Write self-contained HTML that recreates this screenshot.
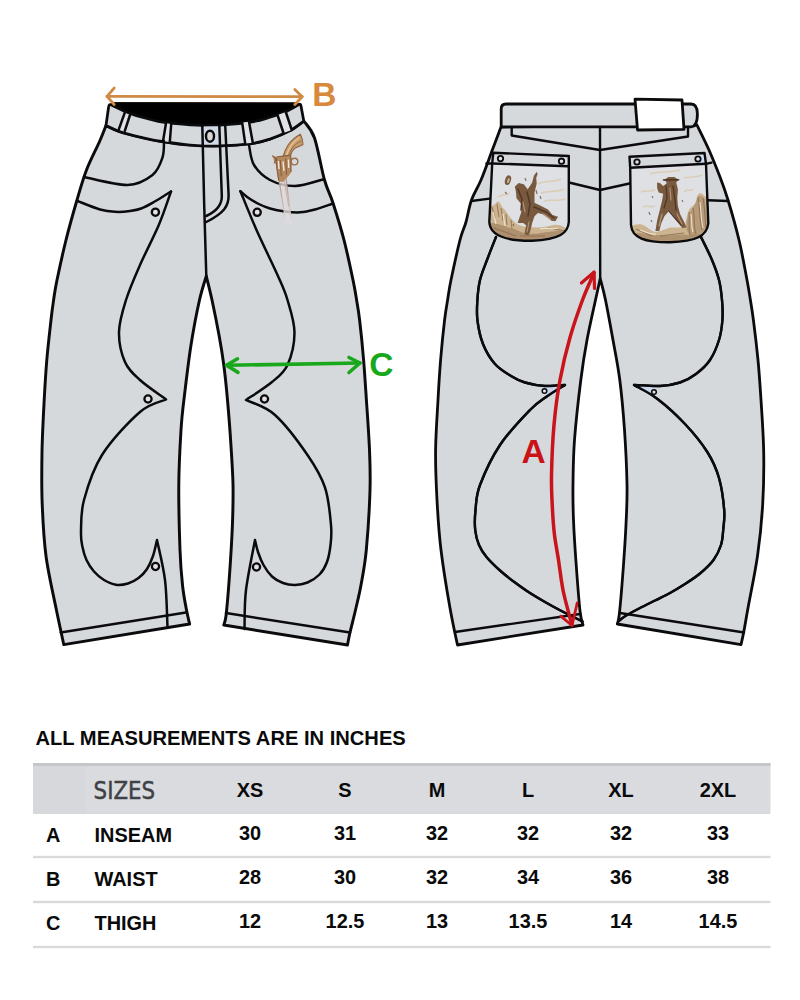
<!DOCTYPE html>
<html lang="en"><head><meta charset="utf-8"><title>Size chart</title>
<style>
html,body{margin:0;padding:0;background:#fff;}
body{width:800px;height:1000px;overflow:hidden;font-family:"Liberation Sans",sans-serif;}
svg{display:block;position:absolute;left:0;top:0;}
</style></head><body>
<svg width="800" height="1000" viewBox="0 0 800 1000">
<rect width="800" height="1000" fill="#ffffff"/>
<g id="jeans">
<defs>
<clipPath id="cpl"><path d="M493.3,152.8 L568.8,156 L568.8,222 C568,233 560,239.5 532,240.8 C508,241 490,237 489.3,222 L492.2,163.5 Z"/></clipPath>
<clipPath id="cpr"><path d="M629.5,156.8 L704.5,153 L706,164 L708.3,223.5 C707,236 696,241.5 670,242.3 C645,242.5 632,238 631,225 L630.2,167.7 Z"/></clipPath>
<linearGradient id="barrel" x1="0" y1="0" x2="0" y2="1"><stop offset="0" stop-color="#b59084"/><stop offset=".55" stop-color="#c9b6b2"/><stop offset="1" stop-color="#dddcdf"/></linearGradient>
</defs>
<g id="front">
<path d="M106.0,125.5 C105.0,128.0 103.2,133.1 100.0,140.5 C96.8,147.9 90.3,160.1 86.5,170.0 C82.7,179.9 80.4,188.3 77.0,200.0 C73.6,211.7 69.3,226.7 66.0,240.0 C62.7,253.3 59.1,270.0 57.0,280.0 C54.9,290.0 54.6,293.3 53.6,300.0 C52.6,306.7 52.1,310.0 51.0,320.0 C49.9,330.0 47.9,346.7 46.8,360.0 C45.7,373.3 45.0,384.7 44.2,400.0 C43.4,415.3 42.3,434.7 42.0,452.0 C41.7,469.3 41.5,486.7 42.2,504.0 C42.9,521.3 43.7,538.7 46.0,556.0 C48.3,573.3 53.0,593.2 56.0,608.0 C59.0,622.8 62.5,638.5 63.8,644.6 L189.6,624.0 C189.1,621.7 187.7,616.3 186.5,610.0 C185.3,603.7 183.7,596.0 182.6,586.0 C181.5,576.0 180.6,567.0 180.0,550.0 C179.4,533.0 178.6,504.0 178.8,484.0 C179.0,464.0 180.1,444.8 181.0,430.0 C181.9,415.2 182.8,409.2 184.5,395.0 C186.2,380.8 188.5,360.8 191.0,345.0 C193.5,329.2 196.9,311.5 199.5,300.0 C202.1,288.5 205.2,280.0 206.3,276.0 L206.3,276.0 C207.2,280.0 209.9,290.2 212.0,300.0 C214.1,309.8 217.0,324.2 219.0,335.0 C221.0,345.8 222.4,354.2 223.8,365.0 C225.2,375.8 226.4,387.5 227.5,400.0 C228.6,412.5 229.7,426.0 230.6,440.0 C231.5,454.0 232.7,470.7 233.0,484.0 C233.3,497.3 233.0,507.0 232.6,520.0 C232.2,533.0 231.4,546.6 230.4,562.0 C229.4,577.4 227.5,602.0 226.4,612.5 C225.3,623.0 224.2,622.9 223.8,625.0 L347.5,645.0 C347.9,642.9 348.7,638.3 350.0,632.5 C351.3,626.7 353.7,617.9 355.5,610.0 C357.3,602.1 359.2,595.0 361.0,585.0 C362.8,575.0 364.8,565.8 366.3,550.0 C367.8,534.2 369.5,506.7 370.0,490.0 C370.5,473.3 370.1,465.0 369.5,450.0 C368.9,435.0 367.4,415.0 366.4,400.0 C365.4,385.0 364.7,373.3 363.6,360.0 C362.5,346.7 360.8,330.0 359.6,320.0 C358.4,310.0 357.7,306.7 356.6,300.0 C355.5,293.3 355.1,290.0 353.0,280.0 C350.9,270.0 347.3,252.8 344.0,240.0 C340.7,227.2 336.2,213.0 333.0,203.0 C329.8,193.0 327.6,190.8 324.5,180.0 C321.4,169.2 317.9,147.8 314.5,138.0 C311.1,128.2 305.6,123.8 303.8,121.0 L303.8,121.0 C301.7,122.5 296.6,127.0 291.0,130.0 C285.4,133.0 276.5,136.8 270.0,139.0 C263.5,141.2 260.3,142.4 252.0,143.5 C243.7,144.6 230.3,145.6 220.0,145.8 C209.7,146.1 200.0,145.8 190.0,145.0 C180.0,144.2 168.3,142.5 160.0,141.2 C151.7,139.9 146.8,138.6 140.0,137.0 C133.2,135.4 125.2,133.4 119.5,131.5 C113.8,129.6 108.2,126.5 106.0,125.5 Z" fill="#d6d9dc" stroke="#0b0b0d" stroke-width="2.95" stroke-linejoin="round" stroke-linecap="round" />
<path d="M113,102.6 L297,102.8 L299,104.4 C296.7,105.7 289.8,109.9 285.0,112.0 C280.2,114.1 275.5,115.6 270.0,117.2 C264.5,118.8 260.3,120.5 252.0,121.8 C243.7,123.1 230.3,124.7 220.0,125.2 C209.7,125.7 199.2,125.2 190.0,124.8 C180.8,124.3 171.7,123.5 164.5,122.5 C157.3,121.5 152.8,120.0 147.0,118.5 C141.2,117.0 136.1,115.8 130.0,113.5 C123.9,111.2 113.8,106.1 110.5,104.6 Z" fill="#000" stroke="#0b0b0d" stroke-width="1" stroke-linejoin="round" stroke-linecap="round" />
<path d="M108.6,107 Q108.9,104.2 110.5,104.6 C113.8,106.1 123.9,111.2 130.0,113.5 C136.1,115.8 141.2,117.0 147.0,118.5 C152.8,120.0 157.3,121.5 164.5,122.5 C171.7,123.5 180.8,124.3 190.0,124.8 C199.2,125.2 209.7,125.7 220.0,125.2 C230.3,124.7 243.7,123.1 252.0,121.8 C260.3,120.5 264.5,118.8 270.0,117.2 C275.5,115.6 280.2,114.1 285.0,112.0 C289.8,109.9 296.7,105.7 299.0,104.4 Q300.6,103.6 301,106 L303.8,121 C301.7,122.5 296.6,127.0 291.0,130.0 C285.4,133.0 276.5,136.8 270.0,139.0 C263.5,141.2 260.3,142.4 252.0,143.5 C243.7,144.6 230.3,145.6 220.0,145.8 C209.7,146.1 200.0,145.8 190.0,145.0 C180.0,144.2 168.3,142.5 160.0,141.2 C151.7,139.9 146.8,138.6 140.0,137.0 C133.2,135.4 125.2,133.4 119.5,131.5 C113.8,129.6 108.2,126.5 106.0,125.5 Z" fill="#d6d9dc" stroke="#0b0b0d" stroke-width="2.75" stroke-linejoin="round" stroke-linecap="round" />
<path d="M203.3,126.5 L218.5,126.3 L219.3,144.6 L203.6,144.6 Z" fill="#d2dae8"/>
<path d="M124.8,112.7 L130,115 L124.8,130.8 L118.8,129.3 Z" fill="#e0e2e6"/>
<path d="M166,123.2 L171.2,124 L169.8,142 L163,141.2 Z" fill="#e0e2e6"/>
<path d="M242.2,122.6 L249,121.8 L252.8,142.8 L245.2,143.6 Z" fill="#e0e2e6"/>
<path d="M277.5,115 L285.8,112 L291.8,130 L283.5,133 Z" fill="#e0e2e6"/>
<path d="M164.0,141.0 C163.8,143.8 164.4,151.8 162.5,157.5 C160.6,163.2 158.3,170.4 152.5,175.0 C146.7,179.6 138.9,184.7 127.5,185.0 C116.1,185.3 91.2,178.3 84.0,177.0" fill="none" stroke="#0b0b0d" stroke-width="2.5" stroke-linejoin="round" stroke-linecap="round" />
<path d="M77.5,201.0 C81.2,202.4 93.8,207.7 100.0,209.5 C106.2,211.3 110.0,211.6 115.0,211.8 C120.0,212.1 125.6,211.6 130.0,211.0 C134.4,210.4 137.5,209.9 141.2,208.5 C145.0,207.1 148.8,204.9 152.5,202.8 C156.2,200.7 160.7,197.9 163.8,196.0 C166.8,194.1 169.8,192.2 171.0,191.5" fill="none" stroke="#0b0b0d" stroke-width="2.5" stroke-linejoin="round" stroke-linecap="round" />
<path d="M171.0,191.5 C169.0,197.1 164.0,212.8 158.8,225.0 C153.6,237.2 145.5,252.5 140.0,265.0 C134.5,277.5 129.5,288.8 126.0,300.0 C122.5,311.2 119.2,321.7 119.0,332.0 C118.8,342.3 121.5,354.0 125.0,362.0 C128.5,370.0 133.2,373.8 140.0,380.0 C146.8,386.2 161.7,396.2 166.0,399.5 L166.0,399.5 C161.7,401.6 150.7,402.8 140.0,412.0 C129.3,421.2 111.3,440.3 102.0,455.0 C92.7,469.7 87.5,487.1 84.0,500.0 C80.5,512.9 81.2,524.7 81.0,532.5 C80.8,540.3 81.6,542.4 82.5,547.0 C83.4,551.6 84.6,555.9 86.5,560.0 C88.4,564.1 91.1,568.2 94.0,571.5 C96.9,574.8 100.3,577.8 104.0,580.0 C107.7,582.2 112.0,584.2 116.0,584.8 C120.0,585.4 124.2,584.6 128.0,583.5 C131.8,582.4 135.3,580.4 138.5,578.0 C141.7,575.6 144.6,572.7 147.0,569.0 C149.4,565.3 151.3,560.8 153.0,556.0 C154.7,551.2 156.3,542.7 157.0,540.0 L157.0,540.0 C158.3,546.7 163.2,565.4 165.0,580.0 C166.8,594.6 167.1,619.6 167.5,627.5" fill="none" stroke="#0b0b0d" stroke-width="2.5" stroke-linejoin="round" stroke-linecap="round" />
<path d="M249.0,145.0 C249.8,148.3 250.5,159.2 254.0,165.0 C257.5,170.8 263.2,176.5 270.0,180.0 C276.8,183.5 286.2,186.1 295.0,186.0 C303.8,185.9 318.3,180.6 323.0,179.5" fill="none" stroke="#0b0b0d" stroke-width="2.5" stroke-linejoin="round" stroke-linecap="round" />
<path d="M331.5,204.0 C328.8,204.9 320.2,208.1 315.0,209.5 C309.8,210.9 305.0,212.0 300.0,212.3 C295.0,212.6 290.0,212.1 285.0,211.5 C280.0,210.9 274.4,209.8 270.0,208.5 C265.6,207.2 262.5,205.9 258.8,204.0 C255.0,202.1 250.6,199.4 247.5,197.2 C244.4,195.1 241.6,192.2 240.4,191.2" fill="none" stroke="#0b0b0d" stroke-width="2.5" stroke-linejoin="round" stroke-linecap="round" />
<path d="M240.4,191.2 C243.1,197.7 250.3,216.0 256.5,230.0 C262.7,244.0 272.3,263.3 277.5,275.0 C282.7,286.7 284.7,290.4 287.5,300.0 C290.3,309.6 294.5,321.7 294.5,332.5 C294.5,343.3 291.2,356.8 287.5,365.0 C283.8,373.2 278.9,376.2 272.0,382.0 C265.1,387.8 250.3,397.0 246.0,400.0 L246.0,400.0 C250.8,402.5 264.8,405.8 275.0,415.0 C285.2,424.2 299.2,442.9 307.5,455.0 C315.8,467.1 321.1,475.8 325.0,487.5 C328.9,499.2 330.1,515.4 331.0,525.0 C331.9,534.6 331.2,538.8 330.5,545.0 C329.8,551.2 328.8,557.1 327.0,562.0 C325.2,566.9 322.8,571.1 319.5,574.5 C316.2,577.9 311.6,580.8 307.5,582.5 C303.4,584.2 299.1,584.9 295.0,585.0 C290.9,585.1 286.8,584.4 283.0,583.0 C279.2,581.6 275.2,579.5 272.0,576.5 C268.8,573.5 265.8,569.1 263.5,565.0 C261.2,560.9 259.4,556.2 258.0,552.0 C256.6,547.8 255.5,542.0 255.0,540.0 L255.0,540.0 C253.5,548.3 247.8,575.2 246.0,590.0 C244.2,604.8 244.8,622.5 244.5,629.0" fill="none" stroke="#0b0b0d" stroke-width="2.5" stroke-linejoin="round" stroke-linecap="round" />
<path d="M60.7,632.4 L186,612.5" fill="none" stroke="#0b0b0d" stroke-width="2.5" stroke-linejoin="round" stroke-linecap="round" />
<path d="M226,613 L350,632.5" fill="none" stroke="#0b0b0d" stroke-width="2.5" stroke-linejoin="round" stroke-linecap="round" />
<path d="M202.3,125 L204.2,205 L206.3,276" fill="none" stroke="#0b0b0d" stroke-width="2.5" stroke-linejoin="round" stroke-linecap="round" />
<path d="M225.2,125 L228.6,194.8 C229,206 224,213 206.3,222" fill="none" stroke="#0b0b0d" stroke-width="2.5" stroke-linejoin="round" stroke-linecap="round" />
<path d="M219.3,125 L221.8,196 C222,204 218,210.5 206.3,216" fill="none" stroke="#0b0b0d" stroke-width="2.5" stroke-linejoin="round" stroke-linecap="round" />
<path d="M124.8,112.7 L118.8,129.3" fill="none" stroke="#0b0b0d" stroke-width="2.5" stroke-linejoin="round" stroke-linecap="round" />
<path d="M130,115 L124.8,130.8" fill="none" stroke="#0b0b0d" stroke-width="2.5" stroke-linejoin="round" stroke-linecap="round" />
<path d="M166,123.2 L163,141.2" fill="none" stroke="#0b0b0d" stroke-width="2.5" stroke-linejoin="round" stroke-linecap="round" />
<path d="M171.2,124 L169.8,142" fill="none" stroke="#0b0b0d" stroke-width="2.5" stroke-linejoin="round" stroke-linecap="round" />
<path d="M242.2,122.6 L245.2,143.6" fill="none" stroke="#0b0b0d" stroke-width="2.5" stroke-linejoin="round" stroke-linecap="round" />
<path d="M249,121.8 L252.8,142.8" fill="none" stroke="#0b0b0d" stroke-width="2.5" stroke-linejoin="round" stroke-linecap="round" />
<path d="M277.5,115 L283.5,133" fill="none" stroke="#0b0b0d" stroke-width="2.5" stroke-linejoin="round" stroke-linecap="round" />
<path d="M285.8,112 L291.8,130" fill="none" stroke="#0b0b0d" stroke-width="2.5" stroke-linejoin="round" stroke-linecap="round" />
<ellipse cx="210" cy="136.2" rx="4" ry="5.5" fill="#dad8d4" stroke="#0b0b0d" stroke-width="2.4"/>
<circle cx="155.4" cy="212.2" r="3.6" fill="#e6e1e3" stroke="#0b0b0d" stroke-width="2.3"/>
<circle cx="257.2" cy="212.3" r="3.6" fill="#e6e1e3" stroke="#0b0b0d" stroke-width="2.3"/>
<circle cx="148" cy="399" r="3.6" fill="#e6e1e3" stroke="#0b0b0d" stroke-width="2.3"/>
<circle cx="264.5" cy="399" r="3.6" fill="#e6e1e3" stroke="#0b0b0d" stroke-width="2.3"/>
<circle cx="155.5" cy="566.5" r="3.6" fill="#e6e1e3" stroke="#0b0b0d" stroke-width="2.3"/>
<circle cx="256.5" cy="567" r="3.6" fill="#e6e1e3" stroke="#0b0b0d" stroke-width="2.3"/>
<g id="gun">
<path d="M279.2,178 L285.6,176.5 L291.6,223.4 L286,222.4 Z" fill="#dedbdc" opacity=".8"/>
<path d="M278.6,178 L286,222.4" stroke="url(#barrel)" stroke-width="1.3" fill="none"/>
<path d="M285.6,175 L291.5,223.4" stroke="url(#barrel)" stroke-width="1.3" fill="none"/>
<path d="M282.4,170 L288.6,206" stroke="#bfa7a0" stroke-width="1" fill="none" opacity=".8"/>
<path d="M300.4,134.2 C295,137 291,141 288.4,144.5 C286,148 284.4,152 283,156.5 L290.8,155 C291.6,152 292.6,150.2 294.5,148.6 C297,146.8 300.5,146 303,144.6 C303,140.6 301.8,137 300.4,134.2 Z" fill="#c79c6b" stroke="#8f623f" stroke-width="1.1" stroke-linejoin="round"/>
<path d="M299.5,137.5 C295,140.5 291.5,144.5 289.3,148.5 C288,151 287.2,153 286.6,155.5" stroke="#e3c59c" stroke-width="1.5" fill="none"/>
<path d="M301.4,141 C297.6,142.6 294.6,145 292.4,148 C291,150 290,152 289.4,154.6" stroke="#9a6c46" stroke-width="1" fill="none"/>
<path d="M272.2,155.6 L276.4,157 L283,155.8 L290.8,155 L291.4,160 L291,172.6 L288.6,176 L286,178.4 L283,182 L279,181.6 L277.6,176 L276.4,166 L274.6,162 Z" fill="#b38960"/>
<path d="M272.2,155.6 L276,158.6 L274.2,163.4 M276.6,158 L276.8,168 L278.8,180.6 M276.4,157 L290.8,155.2 M290.8,156 L291,172" stroke="#8a5e3d" stroke-width="1.2" fill="none" stroke-linejoin="round"/>
<path d="M280.2,160 L281.4,176.4 M285.6,158.6 L286.6,174.6" stroke="#8a5e3d" stroke-width="1.1" fill="none"/>
<path d="M278.4,161 L279,169 M283,161.4 L284,171 M288.4,159.6 L288.8,168" stroke="#f0e6da" stroke-width="1.4" fill="none"/>
<circle cx="294.5" cy="161.6" r="3.3" fill="none" stroke="#9b6f4b" stroke-width="1.4"/>
</g>
</g>
<g id="back">
<path d="M501.0,127.0 C499.6,130.8 495.6,141.2 492.3,150.0 C489.0,158.8 484.5,171.7 481.0,180.0 C477.5,188.3 474.0,193.0 471.5,200.0 C469.0,207.0 467.9,215.3 466.0,222.0 C464.1,228.7 462.5,230.3 460.0,240.0 C457.5,249.7 453.1,270.0 451.0,280.0 C448.9,290.0 448.7,293.3 447.6,300.0 C446.5,306.7 445.8,310.0 444.6,320.0 C443.4,330.0 441.7,346.7 440.6,360.0 C439.5,373.3 438.8,385.0 438.0,400.0 C437.2,415.0 435.8,433.3 435.6,450.0 C435.4,466.7 436.1,483.3 437.0,500.0 C437.9,516.7 438.8,532.0 441.0,550.0 C443.2,568.0 447.2,592.2 450.0,608.0 C452.8,623.8 456.2,638.8 457.5,645.0 L583.0,625.0 C582.5,622.7 581.2,621.5 580.0,611.0 C578.8,600.5 577.1,577.2 576.0,562.0 C574.9,546.8 574.0,533.0 573.5,520.0 C573.0,507.0 572.8,497.3 573.0,484.0 C573.2,470.7 573.2,457.3 574.5,440.0 C575.8,422.7 578.7,396.7 580.8,380.0 C582.9,363.3 584.5,353.3 587.0,340.0 C589.5,326.7 593.3,310.2 595.5,300.0 C597.7,289.8 599.4,282.1 600.2,278.5 L600.2,278.5 C601.1,282.1 603.4,289.8 605.5,300.0 C607.6,310.2 610.6,326.7 613.0,340.0 C615.4,353.3 617.9,365.0 619.8,380.0 C621.7,395.0 623.3,412.7 624.5,430.0 C625.7,447.3 626.7,469.0 627.0,484.0 C627.3,499.0 626.8,507.0 626.2,520.0 C625.7,533.0 624.8,546.6 623.7,562.0 C622.6,577.4 620.6,602.2 619.5,612.5 C618.4,622.8 617.7,622.1 617.3,624.0 L741.0,644.6 C741.5,642.5 742.5,638.3 743.7,632.2 C744.9,626.1 745.7,620.7 748.0,608.0 C750.3,595.3 755.0,573.3 757.5,556.0 C760.0,538.7 761.7,521.3 762.7,504.0 C763.7,486.7 764.0,469.3 763.7,452.0 C763.4,434.7 762.0,415.3 761.0,400.0 C760.0,384.7 759.3,373.3 758.0,360.0 C756.7,346.7 754.7,330.0 753.4,320.0 C752.1,310.0 751.5,306.7 750.4,300.0 C749.3,293.3 748.9,290.0 747.0,280.0 C745.1,270.0 742.2,253.3 739.0,240.0 C735.8,226.7 731.2,210.5 728.0,200.0 C724.8,189.5 723.2,185.3 720.0,177.0 C716.8,168.7 712.8,158.7 709.0,150.0 C705.2,141.3 699.0,129.2 697.0,125.0 Z" fill="#d6d9dc" stroke="#0b0b0d" stroke-width="2.8" stroke-linejoin="round" stroke-linecap="round" />
<path d="M506,104 L691,104 C695.5,104 697.4,108 697.4,114 C697.4,121 696,126.5 691,126.8 L501.2,126.8 L501.2,109 C501.2,105.5 503,104 506,104 Z" fill="#d6d9dc" stroke="#0b0b0d" stroke-width="2.8" stroke-linejoin="round"/>
<path d="M635,99.2 L682,100 L684,129.3 L637.5,130 Z" fill="#ffffff" stroke="#0b0b0d" stroke-width="2.8" stroke-linejoin="round" stroke-linecap="round" />
<path d="M496.0,237.0 C494.5,240.8 489.7,252.8 487.0,260.0 C484.3,267.2 481.6,273.3 480.0,280.0 C478.4,286.7 477.8,293.3 477.4,300.0 C477.0,306.7 476.5,312.7 477.4,320.0 C478.3,327.3 480.1,336.7 483.0,344.0 C485.9,351.3 490.3,358.7 495.0,364.0 C499.7,369.3 506.0,372.9 511.0,376.0 C516.0,379.1 519.3,380.8 525.0,382.5 C530.7,384.2 538.3,385.6 545.0,386.0 C551.7,386.4 561.7,385.2 565.0,385.0 L565.0,385.0 C562.1,386.8 553.3,391.8 547.5,396.0 C541.7,400.2 537.9,401.8 530.0,410.0 C522.1,418.2 508.3,432.5 500.0,445.0 C491.7,457.5 484.1,474.2 480.0,485.0 C475.9,495.8 476.3,502.5 475.5,510.0 C474.7,517.5 474.6,524.2 475.2,530.0 C475.8,535.8 477.1,540.5 479.0,545.0 C480.9,549.5 483.0,552.8 486.5,557.0 C490.0,561.2 495.2,566.2 500.0,570.5 C504.8,574.8 510.0,578.8 515.0,582.5 C520.0,586.2 525.0,589.8 530.0,593.0 C535.0,596.2 540.0,599.1 545.0,602.0 C550.0,604.9 555.0,607.6 560.0,610.2 C565.0,612.8 571.2,615.8 575.0,617.7 C578.8,619.6 581.2,620.9 582.5,621.5" fill="none" stroke="#0b0b0d" stroke-width="2.4" stroke-linejoin="round" stroke-linecap="round" />
<path d="M701.0,237.0 C702.8,240.8 709.0,252.8 712.0,260.0 C715.0,267.2 717.3,273.3 719.0,280.0 C720.7,286.7 721.4,293.3 722.0,300.0 C722.6,306.7 722.9,313.3 722.4,320.0 C721.9,326.7 721.1,333.3 719.0,340.0 C716.9,346.7 713.8,354.3 710.0,360.0 C706.2,365.7 701.0,370.2 696.0,374.0 C691.0,377.8 686.0,380.5 680.0,382.5 C674.0,384.5 667.7,385.6 660.0,386.0 C652.3,386.4 638.3,385.2 634.0,385.0 L634.0,385.0 C637.9,387.3 649.0,392.5 657.5,399.0 C666.0,405.5 676.7,415.2 685.0,424.0 C693.3,432.8 701.6,443.0 707.3,452.0 C713.0,461.0 716.2,468.3 719.0,478.0 C721.8,487.7 723.5,501.3 724.2,510.0 C724.9,518.7 723.7,524.2 723.2,530.0 C722.7,535.8 722.6,540.0 721.0,545.0 C719.4,550.0 717.0,555.2 713.5,560.0 C710.0,564.8 704.8,569.5 700.0,573.5 C695.2,577.5 690.0,580.8 685.0,584.0 C680.0,587.2 675.0,590.2 670.0,593.0 C665.0,595.8 660.0,598.0 655.0,600.5 C650.0,603.0 645.0,605.4 640.0,608.0 C635.0,610.6 628.6,614.0 625.0,616.2 C621.4,618.5 619.3,620.6 618.2,621.5" fill="none" stroke="#0b0b0d" stroke-width="2.4" stroke-linejoin="round" stroke-linecap="round" />
<path d="M455,632 L580,614" fill="none" stroke="#0b0b0d" stroke-width="2.4" stroke-linejoin="round" stroke-linecap="round" />
<path d="M620,613 L744,632.5" fill="none" stroke="#0b0b0d" stroke-width="2.4" stroke-linejoin="round" stroke-linecap="round" />
<path d="M511.7,128 L511.7,135.5 L600,150 L688,136.5 L688,127" fill="none" stroke="#0b0b0d" stroke-width="2.4" stroke-linejoin="round" stroke-linecap="round" />
<path d="M569,182.5 L600,190 L629.5,183.5" fill="none" stroke="#0b0b0d" stroke-width="2.4" stroke-linejoin="round" stroke-linecap="round" />
<path d="M486.5,163.5 L492,163.5" fill="none" stroke="#0b0b0d" stroke-width="2.4" stroke-linejoin="round" stroke-linecap="round" />
<path d="M471.5,201 L489.5,198.6" fill="none" stroke="#0b0b0d" stroke-width="2.4" stroke-linejoin="round" stroke-linecap="round" />
<path d="M706,163.8 L711.5,162.6" fill="none" stroke="#0b0b0d" stroke-width="2.4" stroke-linejoin="round" stroke-linecap="round" />
<path d="M708.3,200.2 L728,201" fill="none" stroke="#0b0b0d" stroke-width="2.4" stroke-linejoin="round" stroke-linecap="round" />
<path d="M600,127 L600.2,278" fill="none" stroke="#0b0b0d" stroke-width="2.4" stroke-linejoin="round" stroke-linecap="round" />
<path d="M493.3,152.8 L568.8,156 L568.8,222 C568,233 560,239.5 532,240.8 C508,241 490,237 489.3,222 L492.2,163.5 Z" fill="#dee0e3"/>
<path d="M629.5,156.8 L704.5,153 L706,164 L708.3,223.5 C707,236 696,241.5 670,242.3 C645,242.5 632,238 631,225 L630.2,167.7 Z" fill="#dee0e3"/>
<g clip-path="url(#cpl)">
<path d="M488,209 C491,205 494,206 496,203 C498,200 500,202 501,205 C503,209 505,209 507,213 C510,218 513,221 517,224 C522,227 528,227 535,227.5 C541,227.5 546,227 551,225.5 C556,224 560,225 564,227 L570,230 L570,244 L488,244 Z" fill="#cdb491"/>
<path d="M488,224 C494,221 499,225 505,226 C511,229 516,229 521,232 C530,236 545,232 556,231 C562,230 566,233 570,233 L570,244 L488,244 Z" fill="#a88a68" opacity=".85"/>
<path d="M492,207 L495,218 M497,204 L499,217 M501,208 L503,221 M506,214 L507,225 M511,220 L512,229 M494,228 L516,236 M520,236 L545,236 M548,228 L566,231" stroke="#8c6d4e" stroke-width="1.1" fill="none" opacity=".8"/>
<path d="M493,212 L496,224 M503,214 L505,226 M540,229 C546,227 552,230 558,228" stroke="#efe6d6" stroke-width="1.2" fill="none" opacity=".9"/>
<path d="M538,184 C545,180 553,183 561,179 M541,193 C549,190 556,193 564,189 M498,197 C502,194 506,196 510,193 M544,201 C552,199 558,202 565,199" stroke="#dccbb0" stroke-width="1.5" fill="none" opacity=".9"/>
<path d="M525,178 L526,181 M536,190 L537,194 M540,196 L541,199 M505,192 L507,194 M513,224 L514,226" stroke="#6f5846" stroke-width="1.2" fill="none" opacity=".8"/>
<ellipse cx="508" cy="180.2" rx="2.9" ry="5" transform="rotate(18 508 180.2)" fill="#7b5a3e"/>
<ellipse cx="508.4" cy="180.6" rx="1" ry="2.6" transform="rotate(18 508.4 180.6)" fill="#c9b59c"/>
<path d="M514.8,186.4 L518.7,183.1 L523.8,184.2 L527.7,189.2 L532.2,182.5 L533.9,175.7 L536.7,171.8 L537.6,174.1 L536.2,178.0 L536.7,183.6 L534.5,192.6 L534.5,202.7 L541.2,206.1 L548.0,209.5 L552.5,215.1 L558.1,216.8 L555.3,221.3 L551.4,220.7 L545.7,215.1 L537.9,212.9 L534.5,216.2 L532.2,223.0 L530.0,232.0 L528.3,235.4 L524.4,234.2 L526.1,225.2 L523.2,223.0 L517.6,223.0 L521.0,212.9 L522.1,205.0 L516.5,198.2 L515.9,191.5 Z" fill="#7a5a3f"/>
<path d="M518,189 L522,199 L521,210 M527,192 L530,204 L528,216 M534,207 L546,212 L554,218" stroke="#503726" stroke-width="1.5" fill="none" stroke-linecap="round"/>
<path d="M523,202 L525,212 M529,222 L527,232 M543,214 L550,219" stroke="#b39373" stroke-width="1.2" fill="none" stroke-linecap="round"/>
</g>
<g clip-path="url(#cpr)">
<path d="M630,227 C634,224.5 638,224 642,224.5 C647,226 650,231 655,232 C661,232 666,228 671,227.5 C677,227.5 681,228 685,226 C686,220 687,214 689,210 C691,206 694,206 695.5,203 C696.5,199 697,195 699,193.5 C701,192.5 703,194 704.5,196 L709,198 L709,244 L630,244 Z" fill="#cdb491"/>
<path d="M686,226 C687,217 689,212 692,209 C695,206 696,200 699,196 C701,195 703,197 705,199 L708,230 L692,237 C688,234 686,230 686,226 Z" fill="#b39673" opacity=".85"/>
<path d="M631,234 C640,231 648,236 658,235 C668,237 680,233 690,235 L708,233 L709,244 L630,244 Z" fill="#a88a68" opacity=".8"/>
<path d="M689,212 C690,220 688,228 690,235 M693,208 C695,216 693,226 696,234 M698,197 C700,206 699,218 702,230 M703,198 C705,208 705,220 706,230 M636,229 L652,236 M660,236 L684,233" stroke="#8c6d4e" stroke-width="1.1" fill="none" opacity=".85"/>
<path d="M691,214 C692,220 691,226 693,232 M700,202 C701,210 701,220 703,228 M640,230 C646,232 650,235 656,234" stroke="#efe6d6" stroke-width="1.1" fill="none" opacity=".9"/>
<path d="M650,174 C658,171 668,173 680,170 M684,178 C690,176 696,178 702,175 M641,192 C646,190 650,192 655,190 M643,207 C647,205 651,208 655,206 M684,192 C688,188 690,192 694,189" stroke="#dccbb0" stroke-width="1.5" fill="none" opacity=".9"/>
<path d="M652,196 L653,198 M649,212 L650,215 M651,220 L652,222 M682,200 L683,202" stroke="#6f5846" stroke-width="1.2" fill="none" opacity=".8"/>
<path d="M663.8,180.2 L668.3,176.9 L674.5,176.9 L678.4,179.7 L676.2,182.5 L677.9,189.2 L677.3,198.2 L677.9,206.1 L680.1,214.0 L684.6,223.0 L686.3,227.5 L682.4,228.1 L677.9,221.9 L673.4,215.1 L669.4,210.6 L664.4,216.2 L661.0,224.1 L659.3,230.9 L655.4,230.9 L657.1,220.7 L659.9,209.5 L662.1,200.5 L663.2,193.7 L658.7,192.6 L657.1,188.1 L657.1,182.5 L659.9,183.1 L663.2,185.9 L666.6,183.6 L666.1,181.4 Z" fill="#7a5a3f"/>
<path d="M663.5,180 L678.6,179.8" stroke="#4a3322" stroke-width="1.6" stroke-linecap="round"/>
<path d="M666,186 L667,198 L664,208 M673,186 L675,200 L676,210 M669,211 L674,217 L681,225" stroke="#503726" stroke-width="1.4" fill="none" stroke-linecap="round"/>
<path d="M670,188 L671,200 M662,214 L659,226 M677,214 L682,224" stroke="#b39373" stroke-width="1.2" fill="none" stroke-linecap="round"/>
</g>
<path d="M493.3,152.8 L568.8,156 L568,166.2 L492.2,163.5 Z" fill="#d6d9dc"/>
<path d="M629.5,156.8 L704.5,153 L706,163.8 L630.2,167.7 Z" fill="#d6d9dc"/>
<rect x="700.5" y="154.5" width="4" height="8.5" fill="#cfe0f5"/>
<path d="M493.3,152.8 L568.8,156 L568.8,222 C568,233 560,239.5 532,240.8 C508,241 490,237 489.3,222 L492.2,163.5 Z" fill="none" stroke="#0b0b0d" stroke-width="2.4" stroke-linejoin="round" stroke-linecap="round" />
<path d="M629.5,156.8 L704.5,153 L706,164 L708.3,223.5 C707,236 696,241.5 670,242.3 C645,242.5 632,238 631,225 L630.2,167.7 Z" fill="none" stroke="#0b0b0d" stroke-width="2.4" stroke-linejoin="round" stroke-linecap="round" />
<path d="M492.2,163.5 L568,166.2" fill="none" stroke="#0b0b0d" stroke-width="2.4" stroke-linejoin="round" stroke-linecap="round" />
<path d="M630.2,167.7 L706,163.8" fill="none" stroke="#0b0b0d" stroke-width="2.4" stroke-linejoin="round" stroke-linecap="round" />
<circle cx="500.5" cy="158.6" r="2.7" fill="#e2e3e6" stroke="#0b0b0d" stroke-width="1.8"/>
<circle cx="561.5" cy="161.2" r="2.7" fill="#e2e3e6" stroke="#0b0b0d" stroke-width="1.8"/>
<circle cx="637" cy="162" r="2.7" fill="#e2e3e6" stroke="#0b0b0d" stroke-width="1.8"/>
<circle cx="698" cy="159" r="2.7" fill="#e2e3e6" stroke="#0b0b0d" stroke-width="1.8"/>
<path d="M565,385 L540,388 L548,395 Z" fill="#c9d7ee"/><path d="M634,385 L659,388 L651,396 Z" fill="#c9d7ee"/>
<path d="M496.0,237.0 C494.5,240.8 489.7,252.8 487.0,260.0 C484.3,267.2 481.6,273.3 480.0,280.0 C478.4,286.7 477.8,293.3 477.4,300.0 C477.0,306.7 476.5,312.7 477.4,320.0 C478.3,327.3 480.1,336.7 483.0,344.0 C485.9,351.3 490.3,358.7 495.0,364.0 C499.7,369.3 506.0,372.9 511.0,376.0 C516.0,379.1 519.3,380.8 525.0,382.5 C530.7,384.2 538.3,385.6 545.0,386.0 C551.7,386.4 561.7,385.2 565.0,385.0 L565.0,385.0 C562.1,386.8 553.3,391.8 547.5,396.0 C541.7,400.2 537.9,401.8 530.0,410.0 C522.1,418.2 508.3,432.5 500.0,445.0 C491.7,457.5 484.1,474.2 480.0,485.0 C475.9,495.8 476.3,502.5 475.5,510.0 C474.7,517.5 474.6,524.2 475.2,530.0 C475.8,535.8 477.1,540.5 479.0,545.0 C480.9,549.5 483.0,552.8 486.5,557.0 C490.0,561.2 495.2,566.2 500.0,570.5 C504.8,574.8 510.0,578.8 515.0,582.5 C520.0,586.2 525.0,589.8 530.0,593.0 C535.0,596.2 540.0,599.1 545.0,602.0 C550.0,604.9 555.0,607.6 560.0,610.2 C565.0,612.8 571.2,615.8 575.0,617.7 C578.8,619.6 581.2,620.9 582.5,621.5" fill="none" stroke="#0b0b0d" stroke-width="2.4" stroke-linejoin="round" stroke-linecap="round" />
<path d="M701.0,237.0 C702.8,240.8 709.0,252.8 712.0,260.0 C715.0,267.2 717.3,273.3 719.0,280.0 C720.7,286.7 721.4,293.3 722.0,300.0 C722.6,306.7 722.9,313.3 722.4,320.0 C721.9,326.7 721.1,333.3 719.0,340.0 C716.9,346.7 713.8,354.3 710.0,360.0 C706.2,365.7 701.0,370.2 696.0,374.0 C691.0,377.8 686.0,380.5 680.0,382.5 C674.0,384.5 667.7,385.6 660.0,386.0 C652.3,386.4 638.3,385.2 634.0,385.0 L634.0,385.0 C637.9,387.3 649.0,392.5 657.5,399.0 C666.0,405.5 676.7,415.2 685.0,424.0 C693.3,432.8 701.6,443.0 707.3,452.0 C713.0,461.0 716.2,468.3 719.0,478.0 C721.8,487.7 723.5,501.3 724.2,510.0 C724.9,518.7 723.7,524.2 723.2,530.0 C722.7,535.8 722.6,540.0 721.0,545.0 C719.4,550.0 717.0,555.2 713.5,560.0 C710.0,564.8 704.8,569.5 700.0,573.5 C695.2,577.5 690.0,580.8 685.0,584.0 C680.0,587.2 675.0,590.2 670.0,593.0 C665.0,595.8 660.0,598.0 655.0,600.5 C650.0,603.0 645.0,605.4 640.0,608.0 C635.0,610.6 628.6,614.0 625.0,616.2 C621.4,618.5 619.3,620.6 618.2,621.5" fill="none" stroke="#0b0b0d" stroke-width="2.4" stroke-linejoin="round" stroke-linecap="round" />
<circle cx="544.5" cy="391" r="2.3" fill="#e2e3e6" stroke="#0b0b0d" stroke-width="1.5"/>
<circle cx="654" cy="392" r="2.3" fill="#e2e3e6" stroke="#0b0b0d" stroke-width="1.5"/>
</g>
<g fill="none" stroke="#cf8a45" stroke-width="2.8" stroke-linecap="round" stroke-linejoin="round"><path d="M107,96.3 L302.2,96.7"/><path d="M114.2,88 L107,96.3 L114.2,104.5"/><path d="M294.8,89.5 L302.2,96.7 L294.8,104.5"/></g>
<g fill="none" stroke="#19a81c" stroke-width="3.6" stroke-linecap="round" stroke-linejoin="round"><path d="M226.5,365.3 L360,363"/><path d="M237.5,358.8 L226.5,365.3 L238,372.4"/><path d="M349,357.5 L360,363 L349,372.5"/></g>
<g fill="none" stroke="#c8141a" stroke-width="3.5" stroke-linecap="round" stroke-linejoin="round"><path d="M594.0,273.0 C592.1,277.5 586.5,289.2 582.5,300.0 C578.5,310.8 573.8,324.2 570.0,337.5 C566.2,350.8 562.7,365.4 560.0,380.0 C557.3,394.6 555.4,409.2 554.0,425.0 C552.6,440.8 551.8,460.8 551.5,475.0 C551.2,489.2 552.0,500.0 552.5,510.0 C553.0,520.0 553.5,526.7 554.5,535.0 C555.5,543.3 557.1,550.8 558.5,560.0 C559.9,569.2 561.2,581.0 563.0,590.0 C564.8,599.0 567.5,608.2 569.0,614.0 C570.5,619.8 571.5,623.2 572.0,625.0"/><path d="M581.4,283 L594.1,272 L594.5,288.5" stroke-width="3.2"/><path d="M560.7,616.2 L572,625.5 L577.2,603" stroke-width="2.8"/></g>
<text x="312.3" y="106.3" font-family="Liberation Sans, sans-serif" font-weight="bold" font-size="33.5" fill="#d88a3c">B</text>
<text x="369.2" y="375.6" font-family="Liberation Sans, sans-serif" font-weight="bold" font-size="33.5" fill="#19a81c">C</text>
<text x="521.6" y="462.7" font-family="Liberation Sans, sans-serif" font-weight="bold" font-size="33.5" fill="#cb1216">A</text>
</g>
<g id="table">
<rect x="33" y="763" width="737.5" height="51" fill="#d9dbde"/>
<rect x="33" y="763" width="53" height="51" fill="#d6d8db"/>
<rect x="33" y="763" width="737.5" height="3" fill="#c4c6ca"/>
<rect x="33" y="855.8" width="737.5" height="2.4" fill="#d9d9dc"/>
<rect x="33" y="900.8" width="737.5" height="2.4" fill="#d9d9dc"/>
<rect x="33" y="945.8" width="737.5" height="2.4" fill="#d9d9dc"/>
<text transform="translate(35.5,745) scale(1.0435,1)" text-anchor="start" font-family="Liberation Sans, sans-serif" font-weight="bold" font-size="19.3" fill="#0a0a0a">ALL MEASUREMENTS ARE IN INCHES</text>
<text x="93.6" y="799.4" font-family="DejaVu Sans Condensed, Liberation Sans, sans-serif" font-size="25" fill="#3e4146" stroke="#3e4146" stroke-width="0.45" textLength="61.5" lengthAdjust="spacingAndGlyphs">SIZES</text>
<text transform="translate(250,796.5) scale(1.033,1)" text-anchor="middle" font-family="Liberation Sans, sans-serif" font-weight="bold" font-size="19.3" fill="#0a0a0a">XS</text>
<text transform="translate(345,796.5) scale(1.033,1)" text-anchor="middle" font-family="Liberation Sans, sans-serif" font-weight="bold" font-size="19.3" fill="#0a0a0a">S</text>
<text transform="translate(437,796.5) scale(1.033,1)" text-anchor="middle" font-family="Liberation Sans, sans-serif" font-weight="bold" font-size="19.3" fill="#0a0a0a">M</text>
<text transform="translate(528,796.5) scale(1.033,1)" text-anchor="middle" font-family="Liberation Sans, sans-serif" font-weight="bold" font-size="19.3" fill="#0a0a0a">L</text>
<text transform="translate(621,796.5) scale(1.033,1)" text-anchor="middle" font-family="Liberation Sans, sans-serif" font-weight="bold" font-size="19.3" fill="#0a0a0a">XL</text>
<text transform="translate(718,796.5) scale(1.033,1)" text-anchor="middle" font-family="Liberation Sans, sans-serif" font-weight="bold" font-size="19.3" fill="#0a0a0a">2XL</text>
<text transform="translate(46,842) scale(1.033,1)" text-anchor="start" font-family="Liberation Sans, sans-serif" font-weight="bold" font-size="19.3" fill="#0a0a0a">A</text>
<text transform="translate(94.5,842) scale(1.033,1)" text-anchor="start" font-family="Liberation Sans, sans-serif" font-weight="bold" font-size="19.3" fill="#0a0a0a">INSEAM</text>
<text transform="translate(250,840.4) scale(1.033,1)" text-anchor="middle" font-family="Liberation Sans, sans-serif" font-weight="bold" font-size="19.3" fill="#0a0a0a">30</text>
<text transform="translate(345,840.4) scale(1.033,1)" text-anchor="middle" font-family="Liberation Sans, sans-serif" font-weight="bold" font-size="19.3" fill="#0a0a0a">31</text>
<text transform="translate(437,840.4) scale(1.033,1)" text-anchor="middle" font-family="Liberation Sans, sans-serif" font-weight="bold" font-size="19.3" fill="#0a0a0a">32</text>
<text transform="translate(528,840.4) scale(1.033,1)" text-anchor="middle" font-family="Liberation Sans, sans-serif" font-weight="bold" font-size="19.3" fill="#0a0a0a">32</text>
<text transform="translate(621,840.4) scale(1.033,1)" text-anchor="middle" font-family="Liberation Sans, sans-serif" font-weight="bold" font-size="19.3" fill="#0a0a0a">32</text>
<text transform="translate(718,840.4) scale(1.033,1)" text-anchor="middle" font-family="Liberation Sans, sans-serif" font-weight="bold" font-size="19.3" fill="#0a0a0a">33</text>
<text transform="translate(46,886) scale(1.033,1)" text-anchor="start" font-family="Liberation Sans, sans-serif" font-weight="bold" font-size="19.3" fill="#0a0a0a">B</text>
<text transform="translate(94.5,886) scale(1.033,1)" text-anchor="start" font-family="Liberation Sans, sans-serif" font-weight="bold" font-size="19.3" fill="#0a0a0a">WAIST</text>
<text transform="translate(250,884.4) scale(1.033,1)" text-anchor="middle" font-family="Liberation Sans, sans-serif" font-weight="bold" font-size="19.3" fill="#0a0a0a">28</text>
<text transform="translate(345,884.4) scale(1.033,1)" text-anchor="middle" font-family="Liberation Sans, sans-serif" font-weight="bold" font-size="19.3" fill="#0a0a0a">30</text>
<text transform="translate(437,884.4) scale(1.033,1)" text-anchor="middle" font-family="Liberation Sans, sans-serif" font-weight="bold" font-size="19.3" fill="#0a0a0a">32</text>
<text transform="translate(528,884.4) scale(1.033,1)" text-anchor="middle" font-family="Liberation Sans, sans-serif" font-weight="bold" font-size="19.3" fill="#0a0a0a">34</text>
<text transform="translate(621,884.4) scale(1.033,1)" text-anchor="middle" font-family="Liberation Sans, sans-serif" font-weight="bold" font-size="19.3" fill="#0a0a0a">36</text>
<text transform="translate(718,884.4) scale(1.033,1)" text-anchor="middle" font-family="Liberation Sans, sans-serif" font-weight="bold" font-size="19.3" fill="#0a0a0a">38</text>
<text transform="translate(46,930) scale(1.033,1)" text-anchor="start" font-family="Liberation Sans, sans-serif" font-weight="bold" font-size="19.3" fill="#0a0a0a">C</text>
<text transform="translate(94.5,930) scale(1.033,1)" text-anchor="start" font-family="Liberation Sans, sans-serif" font-weight="bold" font-size="19.3" fill="#0a0a0a">THIGH</text>
<text transform="translate(250,928.4) scale(1.033,1)" text-anchor="middle" font-family="Liberation Sans, sans-serif" font-weight="bold" font-size="19.3" fill="#0a0a0a">12</text>
<text transform="translate(345,928.4) scale(1.033,1)" text-anchor="middle" font-family="Liberation Sans, sans-serif" font-weight="bold" font-size="19.3" fill="#0a0a0a">12.5</text>
<text transform="translate(437,928.4) scale(1.033,1)" text-anchor="middle" font-family="Liberation Sans, sans-serif" font-weight="bold" font-size="19.3" fill="#0a0a0a">13</text>
<text transform="translate(528,928.4) scale(1.033,1)" text-anchor="middle" font-family="Liberation Sans, sans-serif" font-weight="bold" font-size="19.3" fill="#0a0a0a">13.5</text>
<text transform="translate(621,928.4) scale(1.033,1)" text-anchor="middle" font-family="Liberation Sans, sans-serif" font-weight="bold" font-size="19.3" fill="#0a0a0a">14</text>
<text transform="translate(718,928.4) scale(1.033,1)" text-anchor="middle" font-family="Liberation Sans, sans-serif" font-weight="bold" font-size="19.3" fill="#0a0a0a">14.5</text>
</g>
</svg>
</body></html>
